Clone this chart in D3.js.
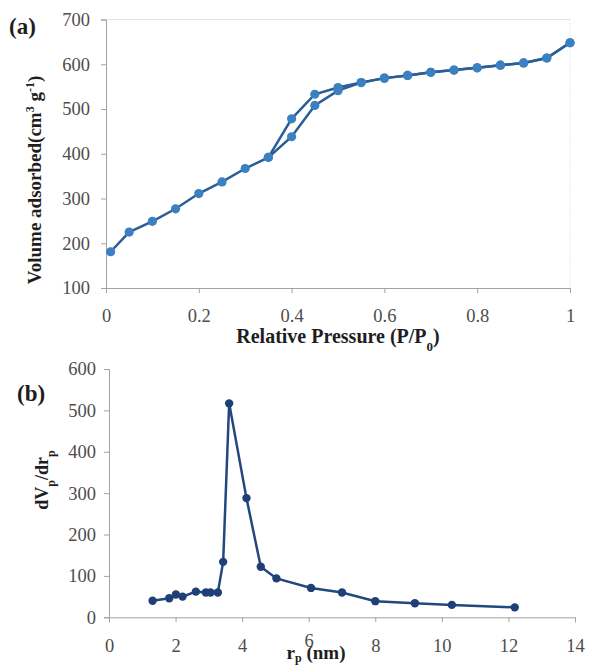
<!DOCTYPE html>
<html>
<head>
<meta charset="utf-8">
<script src="https://cdn.jsdelivr.net/npm/d3@7"></script>
<style>
  body { margin: 0; background: #fff; }
  svg text { font-family: "Liberation Serif", "Times New Roman", serif !important; }
  .tick text { fill: #4d4d4d; }
</style>
</head>
<body>
<svg id="chart" width="589" height="667"></svg>
<script>
// (a) nitrogen isotherm: adsorption + desorption branches
var pAds = [0.01, 0.05, 0.1, 0.15, 0.2, 0.25, 0.3, 0.35, 0.4, 0.45, 0.5, 0.55, 0.6, 0.65, 0.7, 0.75, 0.8, 0.85, 0.9, 0.95, 1.0];
var vAds = [181, 225, 249, 277, 311, 337, 367, 392, 438, 508, 541, 559, 569, 575, 582, 587, 592, 598, 603, 614, 648];
var pDes = [1.0, 0.95, 0.9, 0.85, 0.8, 0.75, 0.7, 0.65, 0.6, 0.55, 0.5, 0.45, 0.4, 0.35];
var vDes = [648, 614, 603, 598, 592, 587, 582, 575, 569, 559, 548, 533, 478, 392];
var aXTicks = [0, 0.2, 0.4, 0.6, 0.8, 1];
var aYTicks = [100, 200, 300, 400, 500, 600, 700];

// (b) pore size distribution
var rp = [1.31, 1.81, 2.01, 2.21, 2.61, 2.91, 3.05, 3.27, 3.43, 3.61, 4.13, 4.56, 5.03, 6.07, 7.0, 8.0, 9.19, 10.3, 12.19];
var dvdr = [40, 46, 55, 50, 62, 60, 60, 60, 134, 517, 288, 122, 94, 71, 60, 39, 34, 30, 24];
var bXTicks = [0, 2, 4, 6, 8, 10, 12, 14];
var bYTicks = [0, 100, 200, 300, 400, 500, 600];

var svg = d3.select("#chart");

function styleAxis(g) {
  g.attr("font-family", null).attr("font-size", null);
  g.selectAll("path,line").attr("stroke", "#a3a3a3");
  g.selectAll("text").attr("font-size", 18.5);
}

// ---------- panel (a) ----------
var xa = d3.scaleLinear().domain([0, 1]).range([106, 570]);
var ya = d3.scaleLinear().domain([100, 700]).range([288, 19.5]);

// plot area border (top solid, right dotted)
svg.append("line")
  .attr("x1", xa(0)).attr("x2", xa(1))
  .attr("y1", ya(700)).attr("y2", ya(700))
  .attr("stroke", "#e4e4e4").attr("stroke-width", 1);
svg.append("line")
  .attr("x1", xa(1)).attr("x2", xa(1))
  .attr("y1", ya(700)).attr("y2", ya(100))
  .attr("stroke", "#d4d4d4").attr("stroke-width", 1)
  .attr("stroke-dasharray", "1,2");

var axA = svg.append("g")
  .attr("transform", "translate(0," + ya(100) + ")")
  .call(d3.axisBottom(xa).tickValues(aXTicks).tickFormat(function(d) { return String(d); }).tickSize(5).tickPadding(16));
var ayA = svg.append("g")
  .attr("transform", "translate(" + xa(0) + ",0)")
  .call(d3.axisLeft(ya).tickValues(aYTicks).tickSize(5).tickPadding(11));
styleAxis(axA);
styleAxis(ayA);

var lineA = d3.line().x(function(d) { return xa(d[0]); }).y(function(d) { return ya(d[1]); });
var ads = pAds.map(function(p, i) { return [p, vAds[i]]; });
var des = pDes.map(function(p, i) { return [p, vDes[i]]; });

[ads, des].forEach(function(s) {
  svg.append("path").datum(s)
    .attr("d", lineA)
    .attr("fill", "none")
    .attr("stroke", "#2a5e96")
    .attr("stroke-width", 2.5);
});
[ads, des].forEach(function(s) {
  svg.selectAll(null).data(s).enter().append("circle")
    .attr("cx", function(d) { return xa(d[0]); })
    .attr("cy", function(d) { return ya(d[1]); })
    .attr("r", 4.6)
    .attr("fill", "#3b80c1");
});

svg.append("text").attr("x", 9).attr("y", 34)
  .attr("font-size", 23).attr("font-weight", "bold").attr("fill", "#1e1e1e").text("(a)");

var yTitleA = svg.append("text")
  .attr("transform", "translate(41,180) rotate(-90)")
  .attr("text-anchor", "middle")
  .attr("font-size", 19).attr("font-weight", "bold").attr("fill", "#1e1e1e");
yTitleA.append("tspan").text("Volume adsorbed(cm");
yTitleA.append("tspan").attr("baseline-shift", "super").attr("font-size", 12).text("3");
yTitleA.append("tspan").text(" g");
yTitleA.append("tspan").attr("baseline-shift", "super").attr("font-size", 12).text("-1");
yTitleA.append("tspan").text(")");

var xTitleA = svg.append("text")
  .attr("x", 338).attr("y", 343)
  .attr("text-anchor", "middle")
  .attr("font-size", 20).attr("font-weight", "bold").attr("fill", "#1e1e1e");
xTitleA.append("tspan").text("Relative Pressure (P/P");
xTitleA.append("tspan").attr("baseline-shift", "sub").attr("font-size", 13).text("0");
xTitleA.append("tspan").text(")");

// ---------- panel (b) ----------
var xb = d3.scaleLinear().domain([0, 14]).range([109, 575]);
var yb = d3.scaleLinear().domain([0, 600]).range([617.3, 369]);

var axB = svg.append("g")
  .attr("transform", "translate(0," + yb(0) + ")")
  .call(d3.axisBottom(xb).tickValues(bXTicks).tickSize(5).tickPadding(17));
var ayB = svg.append("g")
  .attr("transform", "translate(" + xb(0) + ",0)")
  .call(d3.axisLeft(yb).tickValues(bYTicks).tickSize(5).tickPadding(8));
styleAxis(axB);
styleAxis(ayB);
// the "6" label sits a little higher in the original figure
axB.selectAll(".tick text").filter(function(d) { return d === 6; }).attr("y", 17);

var psd = rp.map(function(r, i) { return [r, dvdr[i]]; });
svg.append("path").datum(psd)
  .attr("d", d3.line().x(function(d) { return xb(d[0]); }).y(function(d) { return yb(d[1]); }))
  .attr("fill", "none")
  .attr("stroke", "#23477f")
  .attr("stroke-width", 2.5);
svg.selectAll(null).data(psd).enter().append("circle")
  .attr("cx", function(d) { return xb(d[0]); })
  .attr("cy", function(d) { return yb(d[1]); })
  .attr("r", 4.2)
  .attr("fill", "#1f3f77");

svg.append("text").attr("x", 17).attr("y", 401)
  .attr("font-size", 23).attr("font-weight", "bold").attr("fill", "#1e1e1e").text("(b)");

var yTitleB = svg.append("text")
  .attr("transform", "translate(48,480) rotate(-90)")
  .attr("text-anchor", "middle")
  .attr("font-size", 18).attr("font-weight", "bold").attr("fill", "#1e1e1e");
yTitleB.append("tspan").text("dV");
yTitleB.append("tspan").attr("baseline-shift", "sub").attr("font-size", 12).text("p");
yTitleB.append("tspan").text("/dr");
yTitleB.append("tspan").attr("baseline-shift", "sub").attr("font-size", 12).text("p");

var xTitleB = svg.append("text")
  .attr("x", 316).attr("y", 659)
  .attr("text-anchor", "middle")
  .attr("font-size", 19).attr("font-weight", "bold").attr("fill", "#1e1e1e");
xTitleB.append("tspan").text("r");
xTitleB.append("tspan").attr("baseline-shift", "-3").attr("font-size", 12).text("p");
xTitleB.append("tspan").text(" (nm)");
</script>
</body>
</html>
